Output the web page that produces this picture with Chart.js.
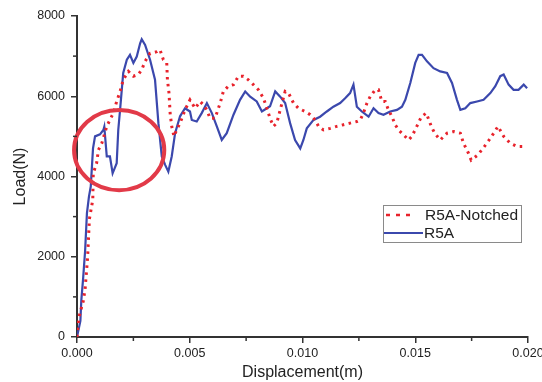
<!DOCTYPE html>
<html>
<head>
<meta charset="utf-8">
<script src="https://cdn.jsdelivr.net/npm/chart.js@4"></script>
<style>
  html, body { margin: 0; padding: 0; background: #fff; }
</style>
</head>
<body>
<canvas id="myChart" width="542" height="382"></canvas>
<script>
const ctx = document.getElementById("myChart").getContext("2d");

// R5A-Notched (red dotted)
const notchedX = [0, 0.00008, 0.00028, 0.00036, 0.00047, 0.00055, 0.00070, 0.00072, 0.00087, 0.00095,
  0.00110, 0.00132, 0.00146, 0.00161, 0.00176, 0.00191, 0.00205, 0.00228, 0.00250, 0.00272,
  0.00287, 0.00302, 0.00324, 0.00354, 0.00368, 0.00383, 0.00398, 0.00401, 0.00408, 0.00413,
  0.00420, 0.00430, 0.00442, 0.00457, 0.00479, 0.00501, 0.00524, 0.00546, 0.00560, 0.00576,
  0.00590, 0.00612, 0.00635, 0.00649, 0.00671, 0.00694, 0.00716, 0.00738, 0.00760, 0.00782,
  0.00805, 0.00827, 0.00842, 0.00856, 0.00871, 0.00886, 0.00901, 0.00923, 0.00938, 0.00960,
  0.00982, 0.01012, 0.01034, 0.01056, 0.01071, 0.01093, 0.01123, 0.01152, 0.01182, 0.01211,
  0.01241, 0.01256, 0.01270, 0.01286, 0.01300, 0.01322, 0.01337, 0.01352, 0.01367, 0.01381,
  0.01397, 0.01411, 0.01426, 0.01448, 0.01470, 0.01485, 0.01507, 0.01527, 0.01549, 0.01571,
  0.01586, 0.01611, 0.01641, 0.01670, 0.01700, 0.01714, 0.01736, 0.01748, 0.01778, 0.01807,
  0.01833, 0.01867, 0.01892, 0.01921, 0.01951, 0.01992];
const notchedLoad = [0, 480, 900, 1200, 1980, 2940, 3420, 4080, 4330, 4660,
  4830, 5250, 5410, 5580, 5870, 6120, 6410, 6620, 6500, 6540,
  6660, 6870, 7070, 7110, 7160, 6910, 6830, 6410, 6080, 5580,
  5250, 5000, 5160, 5330, 5660, 5910, 5700, 5870, 5790, 5660,
  5450, 5450, 5830, 6120, 6250, 6290, 6500, 6500, 6410, 6290,
  6160, 5950, 5700, 5450, 5250, 5330, 5660, 6120, 6080, 5830,
  5700, 5620, 5540, 5410, 5250, 5160, 5200, 5250, 5290, 5330,
  5370, 5410, 5580, 5830, 5990, 6160, 6160, 5870, 5870, 5660,
  5490, 5290, 5160, 5040, 4910, 5000, 5250, 5490, 5580, 5250,
  5080, 4910, 5080, 5120, 5080, 4830, 4580, 4410, 4540, 4750,
  4950, 5250, 5000, 4830, 4750, 4750];

// R5A (blue solid)
const r5aX = [0, 0.00015, 0.00019, 0.00027, 0.00036, 0.00044, 0.00053, 0.00061, 0.00071, 0.00080,
  0.00102, 0.00117, 0.00121, 0.00132, 0.00146, 0.00158, 0.00176, 0.00183, 0.00191, 0.00205,
  0.00221, 0.00235, 0.00250, 0.00265, 0.00280, 0.00287, 0.00302, 0.00324, 0.00346, 0.00361,
  0.00376, 0.00391, 0.00405, 0.00420, 0.00435, 0.00457, 0.00479, 0.00501, 0.00509, 0.00531,
  0.00553, 0.00576, 0.00598, 0.00620, 0.00642, 0.00664, 0.00694, 0.00723, 0.00746, 0.00768,
  0.00797, 0.00820, 0.00842, 0.00856, 0.00879, 0.00901, 0.00923, 0.00945, 0.00967, 0.00990,
  0.01004, 0.01019, 0.01049, 0.01078, 0.01108, 0.01137, 0.01167, 0.01189, 0.01211, 0.01226,
  0.01241, 0.01263, 0.01293, 0.01315, 0.01337, 0.01359, 0.01389, 0.01419, 0.01441, 0.01456,
  0.01478, 0.01500, 0.01515, 0.01530, 0.01552, 0.01581, 0.01611, 0.01641, 0.01663, 0.01685,
  0.01700, 0.01722, 0.01744, 0.01774, 0.01803, 0.01833, 0.01855, 0.01877, 0.01892, 0.01914,
  0.01936, 0.01958, 0.01981, 0.01996];
const r5aLoad = [0, 400, 900, 1450, 2150, 3080, 3500, 3750, 4700, 5000,
  5050, 5160, 5240, 4500, 4500, 4080, 4330, 5160, 5660, 6580,
  6910, 7030, 6830, 6990, 7320, 7420, 7280, 6910, 6410, 5330,
  4500, 4290, 4120, 4500, 5080, 5500, 5700, 5620, 5410, 5370,
  5580, 5830, 5580, 5250, 4910, 5080, 5540, 5910, 6120, 5990,
  5870, 5620, 5700, 5750, 6120, 5990, 5830, 5330, 4910, 4700,
  4910, 5200, 5410, 5490, 5620, 5740, 5830, 5950, 6080, 6290,
  5740, 5620, 5490, 5700, 5580, 5540, 5620, 5660, 5740, 5910,
  6330, 6830, 7030, 7030, 6870, 6700, 6620, 6580, 6330, 5910,
  5660, 5700, 5830, 5870, 5910, 6080, 6250, 6500, 6540, 6290,
  6160, 6160, 6290, 6200];

const xTicks = [0, 0.005, 0.01, 0.015, 0.02];
const yTicks = [0, 2000, 4000, 6000, 8000];

// hand-drawn red ellipse, in data units
const circleCenter = [0.00187, 4660];
const circleRadius = [0.0020, 1000];

const seriesNames = ["R5A-Notched", "R5A"];
const seriesColors = ["#e8232c", "#3b48ad"];

const FONT = "'Liberation Sans', Arial, Helvetica, sans-serif";
const AXIS = "#333333";

function toPoints(xs, ys) {
  return xs.map((x, i) => ({ x: x, y: ys[i] }));
}

const minorTicks = {
  id: "minorTicks",
  afterDraw(chart) {
    const c = chart.ctx;
    const xs = chart.scales.x, ys = chart.scales.y;
    c.save();
    c.strokeStyle = AXIS;
    c.lineWidth = 1.5;
    for (let i = 0; i < xTicks.length - 1; i++) {
      const px = xs.getPixelForValue((xTicks[i] + xTicks[i + 1]) / 2);
      c.beginPath(); c.moveTo(px, xs.top); c.lineTo(px, xs.top + 4); c.stroke();
    }
    for (let i = 0; i < yTicks.length - 1; i++) {
      const py = ys.getPixelForValue((yTicks[i] + yTicks[i + 1]) / 2);
      c.beginPath(); c.moveTo(ys.right, py); c.lineTo(ys.right - 4, py); c.stroke();
    }
    c.restore();
  },
};

const redCircle = {
  id: "redCircle",
  afterDatasetsDraw(chart) {
    const c = chart.ctx;
    const xs = chart.scales.x, ys = chart.scales.y;
    const cx = xs.getPixelForValue(circleCenter[0]);
    const cy = ys.getPixelForValue(circleCenter[1]);
    const rx = Math.abs(xs.getPixelForValue(circleCenter[0] + circleRadius[0]) - cx);
    const ry = Math.abs(ys.getPixelForValue(circleCenter[1] + circleRadius[1]) - cy);
    c.save();
    c.strokeStyle = "#e23a48";
    c.lineWidth = 4;
    c.beginPath();
    c.ellipse(cx, cy, rx, ry, 0, 0, Math.PI * 2);
    c.stroke();
    c.restore();
  },
};

const boxLegend = {
  id: "boxLegend",
  afterDraw(chart) {
    const c = chart.ctx;
    const a = chart.chartArea;
    const right = a.right - 7, top = a.top + 189;
    const w = 138, h = 37;
    const left = right - w;
    c.save();
    c.fillStyle = "#fff";
    c.fillRect(left, top, w, h);
    c.strokeStyle = "#8a8a8a";
    c.lineWidth = 1;
    c.strokeRect(left + 0.5, top + 0.5, w, h);
    const rows = [top + 10, top + 28];
    c.lineWidth = 2.5;
    c.strokeStyle = seriesColors[0];
    c.setLineDash([4, 6]);
    c.beginPath(); c.moveTo(left + 3, rows[0]); c.lineTo(left + 33, rows[0]); c.stroke();
    c.setLineDash([]);
    c.lineWidth = 2;
    c.strokeStyle = seriesColors[1];
    c.beginPath(); c.moveTo(left + 1, rows[1]); c.lineTo(left + 40, rows[1]); c.stroke();
    c.fillStyle = "#222";
    c.font = "15.5px " + FONT;
    c.textBaseline = "middle";
    c.textAlign = "left";
    c.fillText(seriesNames[0], left + 42, rows[0] + 1);
    c.fillText(seriesNames[1], left + 41, rows[1] + 1);
    c.restore();
  },
};

const chartData = {
  datasets: [
    {
      label: seriesNames[0],
      data: toPoints(notchedX, notchedLoad),
      borderColor: seriesColors[0],
      backgroundColor: seriesColors[0],
      borderWidth: 3,
      borderDash: [2.5, 4.5],
      borderCapStyle: "butt",
      pointRadius: 0,
      tension: 0,
      showLine: true,
    },
    {
      label: seriesNames[1],
      data: toPoints(r5aX, r5aLoad),
      borderColor: seriesColors[1],
      backgroundColor: seriesColors[1],
      borderWidth: 2.2,
      pointRadius: 0,
      tension: 0,
      showLine: true,
    },
  ],
};

const chartOptions = {
  responsive: false,
  animation: false,
  layout: { padding: { top: 16, right: 14, left: 0, bottom: 0 } },
  plugins: { legend: { display: false }, tooltip: { enabled: false } },
  scales: {
    x: {
      type: "linear",
      min: 0,
      max: 0.02,
      afterBuildTicks(scale) { scale.ticks = xTicks.map(v => ({ value: v })); },
      afterFit(scale) { scale.height = 45; scale.paddingLeft = 0; scale.paddingRight = 0; },
      border: { display: true, color: AXIS, width: 2 },
      grid: { drawOnChartArea: false, color: AXIS, tickLength: 6, lineWidth: 1.5 },
      ticks: {
        color: "#222",
        padding: 3,
        maxRotation: 0,
        font: { family: FONT, size: 12.5 },
        callback: v => v.toFixed(3),
      },
      title: {
        display: true,
        text: "Displacement(m)",
        color: "#222",
        font: { family: FONT, size: 16 },
        padding: { top: 0, bottom: 0 },
      },
    },
    y: {
      min: 0,
      max: 8000,
      afterBuildTicks(scale) { scale.ticks = yTicks.map(v => ({ value: v })); },
      afterFit(scale) { scale.width = 77; scale.paddingTop = 0; scale.paddingBottom = 0; },
      border: { display: true, color: AXIS, width: 2 },
      grid: { drawOnChartArea: false, color: AXIS, tickLength: 6, lineWidth: 1.5 },
      ticks: {
        color: "#222",
        padding: 6,
        font: { family: FONT, size: 12.5 },
        callback: v => String(v),
      },
      title: {
        display: true,
        text: "Load(N)",
        color: "#222",
        font: { family: FONT, size: 16 },
        padding: { top: 11, bottom: 0 },
      },
    },
  },
};

const lineChart = new Chart(ctx, {
  type: "scatter",
  data: chartData,
  options: chartOptions,
  plugins: [minorTicks, redCircle, boxLegend],
});
</script>
</body>
</html>
